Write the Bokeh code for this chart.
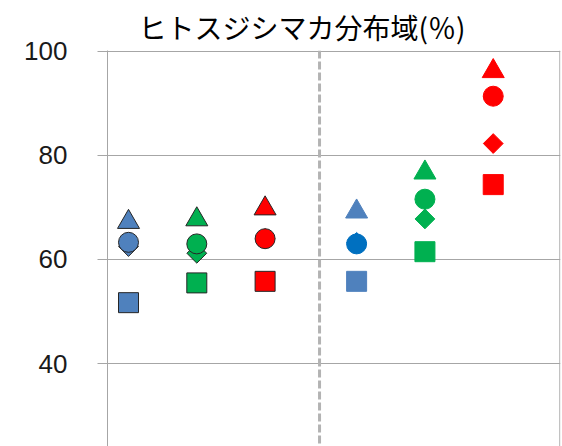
from bokeh.plotting import figure
from bokeh.models import ColumnDataSource, Span, FixedTicker, Range1d
from bokeh.embed import file_html
from bokeh.resources import INLINE
import numpy as np

# ---- data ----
title_text = "ヒトスジシマカ分布域(％)"
x_pos = [1.0, 2.0, 3.0, 4.34, 5.34, 6.34]          # left group: 3 series, right group: 3 series
y_ticks = [20, 40, 60, 80, 100]
divider_x = 3.797
triangle_vals = [67.2, 67.7, 69.8, 69.2, 76.7, 96.2]
circle_vals = [63.3, 63.0, 64.0, 63.0, 71.6, 91.4]
diamond_vals = [62.5, 61.2, 64.0, 63.3, 67.8, 82.3]
square_vals = [51.7, 55.5, 55.8, 55.8, 61.5, 74.4]

# ---- styles ----
base_colors = ["#4f81bd", "#00b050", "#ff0000", "#4f81bd", "#00b050", "#ff0000"]
circle_colors = ["#4f81bd", "#00b050", "#ff0000", "#0070c0", "#00b050", "#ff0000"]
diamond_colors = ["#4f81bd", "#00b050", "#ff0000", "#0070c0", "#00b050", "#ff0000"]
outline = ["#262626", "#262626", "#262626", None, None, None]

X0, X1 = 0.6925, 7.325
p = figure(width=562, height=446, output_backend="svg", toolbar_location=None,
           x_range=Range1d(X0, X1), y_range=Range1d(24.04, 100.19),
           x_axis_type=None, min_border_left=107, min_border_right=2,
           min_border_top=50, min_border_bottom=0, title=title_text)
p.outline_line_color = None
p.background_fill_color = "white"
p.border_fill_color = "white"

p.title.text_font = "Noto Sans CJK JP"
p.title.text_font_size = "28px"
p.title.text_font_style = "normal"
p.title.text_color = "#000000"
p.title.align = "left"
p.title.offset = 31
p.title.standoff = 8
p.title.text_line_height = 0.7

ax = p.yaxis[0]
ax.ticker = FixedTicker(ticks=y_ticks)
ax.axis_line_color = "#a6a6a6"
ax.major_tick_line_color = "#a6a6a6"
ax.major_tick_out = 10
ax.major_tick_in = 0
ax.minor_tick_line_color = None
ax.major_label_standoff = 30
ax.major_label_text_font = "Liberation Sans"
ax.major_label_text_font_size = "26px"
ax.major_label_text_color = "#1a1a1a"

p.ygrid.grid_line_color = "#a6a6a6"
p.ygrid.grid_line_width = 1

p.add_layout(Span(location=divider_x, dimension="height", line_color="#b3b3b3",
                  line_width=3, line_dash="8 3"))
p.add_layout(Span(location=X1 - 0.01, dimension="height", line_color="#a6a6a6", line_width=1))

def src(vals, colors):
    lc = [o if o else c for o, c in zip(outline, colors)]
    return ColumnDataSource(dict(x=x_pos, y=vals, fill=colors, line=lc))

p.scatter("x", "y", source=src(diamond_vals, diamond_colors), marker="square", size=14,
          angle=np.pi / 4, fill_color="fill", line_color="line", line_width=1)
p.scatter("x", "y", source=src(square_vals, base_colors), marker="square", size=20,
          fill_color="fill", line_color="line", line_width=1)
p.scatter("x", "y", source=src(circle_vals, circle_colors), marker="circle", size=20,
          fill_color="fill", line_color="line", line_width=1)
p.scatter("x", "y", source=src(triangle_vals, base_colors), marker="triangle", size=22,
          fill_color="fill", line_color="line", line_width=1)

open("out.html", "w").write(file_html(p, INLINE))
